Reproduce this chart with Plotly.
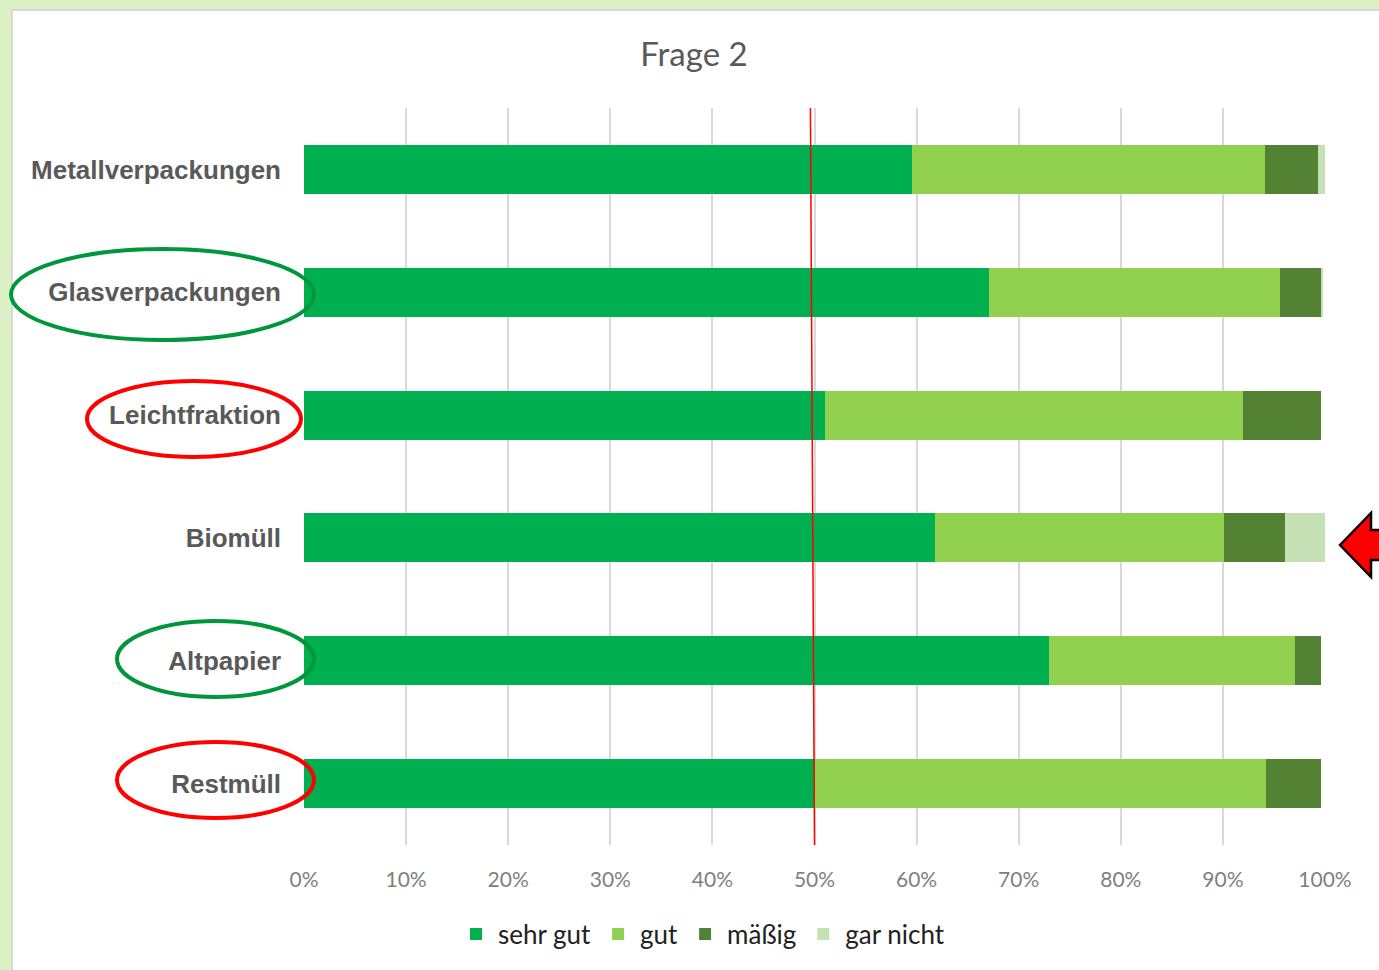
import plotly.graph_objects as go

categories = ["Metallverpackungen", "Glasverpackungen", "Leichtfraktion", "Biomüll", "Altpapier", "Restmüll"]
series_names = ["sehr gut", "gut", "mäßig", "gar nicht"]
sehr_gut = [0.595, 0.671, 0.510, 0.618, 0.730, 0.500]
gut = [0.346, 0.285, 0.410, 0.283, 0.241, 0.442]
maessig = [0.052, 0.040, 0.076, 0.060, 0.025, 0.054]
gar_nicht = [0.007, 0.002, 0.000, 0.039, 0.000, 0.000]
colors = ["#00B050", "#92D050", "#548235", "#C5E0B4"]
x_ticks = [0, 0.1, 0.2, 0.3, 0.4, 0.5, 0.6, 0.7, 0.8, 0.9, 1.0]

W, H = 1379, 970
L, R, T, B = 304, 54, 108, 125
pw, ph = W - L - R, H - T - B

def px(x):
    return (x - L) / pw

def py(y):
    return (H - B - y) / ph

fig = go.Figure()
for name, vals, c in zip(series_names, [sehr_gut, gut, maessig, gar_nicht], colors):
    fig.add_trace(go.Bar(y=categories, x=vals, name=name, orientation="h",
                         marker=dict(color=c, line=dict(width=0)), width=0.4))

shapes = []
# white chart card on light green background
shapes.append(dict(type="rect", xref="paper", yref="paper", x0=px(12), x1=px(W + 5),
                   y0=py(H + 5), y1=py(10), fillcolor="white",
                   line=dict(color="#d0d0d0", width=1.5), layer="below"))
# red 50% line
shapes.append(dict(type="line", xref="x", yref="paper", x0=0.496, x1=0.500, y0=1, y1=0,
                   line=dict(color="red", width=1.5)))
# ellipses
def ell(x0, x1, y0, y1, col):
    return dict(type="circle", xref="paper", yref="paper", x0=px(x0), x1=px(x1),
                y0=py(y1), y1=py(y0), line=dict(color=col, width=4))
shapes.append(ell(11, 314, 249, 340, "#00963c"))
shapes.append(ell(87, 301, 381, 457, "#ff0000"))
shapes.append(ell(117, 314, 621, 697, "#00963c"))
shapes.append(ell(117, 314, 742, 818, "#ff0000"))
# arrow
pts = [(1340, 545), (1371, 513), (1371, 530), (1400, 530), (1400, 560), (1371, 560), (1371, 577)]
path = "M " + " L ".join(f"{px(a):.5f},{py(b):.5f}" for a, b in pts) + " Z"
shapes.append(dict(type="path", xref="paper", yref="paper", path=path,
                   fillcolor="#ff0000", line=dict(color="black", width=2.5)))

fig.update_layout(
    width=W, height=H,
    margin=dict(l=L, r=R, t=T, b=B),
    paper_bgcolor="#dcf0c6",
    plot_bgcolor="white",
    barmode="stack",
    bargap=0.6,
    title=dict(text="Frage 2", xref="container", x=694 / W, xanchor="center",
               yref="container", y=1 - 54 / H, yanchor="middle",
               font=dict(family="Lato", size=33, color="#595959")),
    xaxis=dict(range=[0, 1], tickvals=x_ticks, tickformat=".0%", showgrid=True,
               gridcolor="#d9d9d9", gridwidth=2, zeroline=False, showline=False,
               tickfont=dict(family="Lato", size=21, color="#7f7f7f"), ticks="",
               ticklabelstandoff=20, fixedrange=True),
    yaxis=dict(categoryorder="array", categoryarray=categories, autorange="reversed",
               showgrid=False, zeroline=False, showline=False, ticks="",
               tickfont=dict(family="Liberation Sans", size=26, color="#595959", weight="bold"),
               ticklabelstandoff=22, fixedrange=True),
    legend=dict(orientation="h", x=px(702), xanchor="center", y=py(934), yanchor="middle",
                font=dict(family="Lato", size=26, color="#222222"), traceorder="normal",
                bgcolor="rgba(0,0,0,0)", itemwidth=34),
    shapes=shapes,
    showlegend=True,
)

fig.write_html("out.html", config={"displayModeBar": False},
               post_script="document.body.style.margin='0';document.body.style.overflow='hidden';")
